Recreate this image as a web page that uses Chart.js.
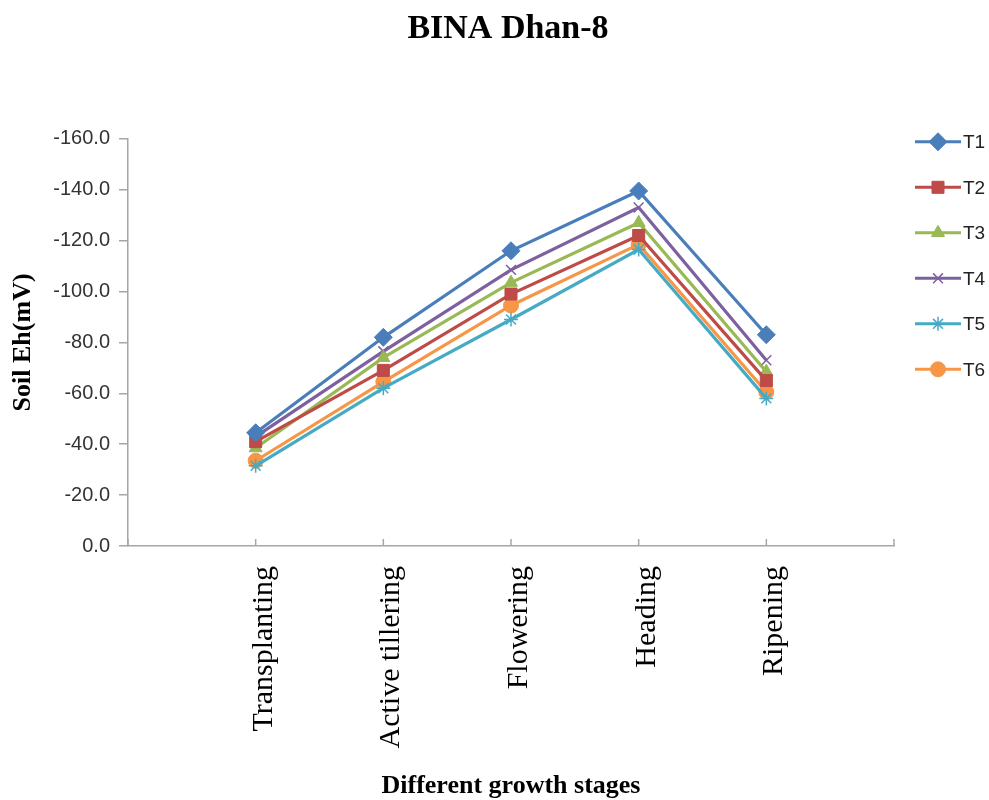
<!DOCTYPE html>
<html>
<head>
<meta charset="utf-8">
<script src="https://cdn.jsdelivr.net/npm/chart.js@4.4.0/dist/chart.umd.min.js"></script>
<style>
  html, body { margin: 0; padding: 0; background: #fff; }
  #wrap { width: 989px; height: 800px; }
</style>
</head>
<body>
<div id="wrap"><canvas id="chart" width="989" height="800"></canvas></div>
<script>
// Growth stages and soil Eh readings (mV)
const stages = ['Transplanting', 'Active tillering', 'Flowering', 'Heading', 'Ripening'];
const seriesNames = ['T1', 'T2', 'T3', 'T4', 'T5', 'T6'];
const t1 = [-44.5, -82.0, -116.0, -139.5, -83.0];
const t2 = [-41.0, -69.0, -99.0, -122.0, -65.0];
const t3 = [-38.5, -74.0, -103.5, -127.0, -68.5];
const t4 = [-43.0, -76.5, -108.5, -133.0, -73.0];
const t5 = [-31.5, -62.0, -89.0, -116.5, -58.0];
const t6 = [-33.5, -64.5, -94.5, -118.5, -60.5];
const yTicks = [0, -20, -40, -60, -80, -100, -120, -140, -160];

const colors = ['#4A7EBB', '#BE4B48', '#98B954', '#7D60A0', '#46AAC5', '#F79646'];
const markers = ['rectRot', 'rect', 'triangle', 'crossRot', 'star', 'circle'];
const markerSize = [9, 8.5, 7.5, 7, 7, 7.5];
const allSeries = [t1, t2, t3, t4, t5, t6];

const datasets = allSeries.map((vals, i) => ({
    label: seriesNames[i],
    data: vals.map((v, j) => ({ x: j + 1, y: v })),
    borderColor: colors[i],
    backgroundColor: colors[i],
    borderWidth: 3.2,
    pointStyle: markers[i],
    pointRadius: markerSize[i],
    pointBorderWidth: (markers[i] === 'crossRot' || markers[i] === 'star') ? 1.5 : 1,
    pointBorderColor: colors[i],
    pointBackgroundColor: colors[i],
    tension: 0
}));

// legend on the right: line sample with marker, like the spreadsheet one
const sideLegend = {
    id: 'sideLegend',
    afterDraw(chart) {
        const ctx = chart.ctx;
        const area = chart.chartArea;
        ctx.save();
        chart.data.datasets.forEach((ds, i) => {
            const y = area.top + 3 + i * 45.5;
            const x0 = area.right + 21;
            const x1 = area.right + 67;
            ctx.strokeStyle = ds.borderColor;
            ctx.fillStyle = ds.borderColor;
            ctx.lineWidth = 3;
            ctx.beginPath();
            ctx.moveTo(x0, y);
            ctx.lineTo(x1, y);
            ctx.stroke();
            ctx.lineWidth = ds.pointBorderWidth;
            Chart.helpers.drawPoint(ctx, {
                pointStyle: ds.pointStyle,
                radius: ds.pointRadius,
                borderWidth: ds.pointBorderWidth,
                rotation: 0
            }, (x0 + x1) / 2, y);
            ctx.fillStyle = '#222';
            ctx.font = '19px "Liberation Sans", Arial, sans-serif';
            ctx.textBaseline = 'middle';
            ctx.textAlign = 'left';
            ctx.fillText(ds.label, x1 + 2, y + 1);
        });
        ctx.restore();
    }
};

// small tick marks pointing up from the category axis
const innerTicks = {
    id: 'innerTicks',
    afterDatasetsDraw(chart) {
        const xs = chart.scales.x;
        const ctx = chart.ctx;
        ctx.save();
        ctx.strokeStyle = '#a6a6a6';
        ctx.lineWidth = 1.5;
        for (let i = 0; i <= stages.length + 1; i++) {
            const px = xs.getPixelForValue(i);
            ctx.beginPath();
            ctx.moveTo(px, xs.top);
            ctx.lineTo(px, xs.top - 7);
            ctx.stroke();
        }
        ctx.restore();
    }
};

// the original title sits a bit right of the canvas middle
const shiftTitle = {
    id: 'shiftTitle',
    afterLayout(chart) {
        if (chart.titleBlock) {
            chart.titleBlock.left += 122;
        }
    }
};

new Chart(document.getElementById('chart'), {
    type: 'line',
    data: { datasets },
    plugins: [sideLegend, innerTicks, shiftTitle],
    options: {
        responsive: false,
        animation: false,
        layout: { padding: { left: 0, right: 95, top: 0, bottom: 0 } },
        plugins: {
            legend: { display: false },
            tooltip: { enabled: false },
            title: {
                display: true,
                text: 'BINA Dhan-8',
                color: '#000',
                font: { family: '"Liberation Serif", "Times New Roman", serif', size: 34, weight: 'bold' },
                padding: { top: 9, bottom: 89 }
            }
        },
        scales: {
            x: {
                type: 'linear',
                min: 0,
                max: stages.length + 1,
                afterBuildTicks(scale) {
                    scale.ticks = stages.map((s, i) => ({ value: i + 1 }));
                },
                afterFit(scale) { scale.height = 254; },
                grid: { display: false },
                border: { display: true, color: '#a6a6a6', width: 1.5 },
                ticks: {
                    minRotation: 90,
                    maxRotation: 90,
                    padding: 12,
                    labelOffset: 8,
                    color: '#000',
                    font: { family: '"Liberation Serif", "Times New Roman", serif', size: 30 },
                    callback: (v) => stages[v - 1] || ''
                },
                title: {
                    display: true,
                    text: 'Different growth stages',
                    color: '#000',
                    font: { family: '"Liberation Serif", "Times New Roman", serif', size: 26, weight: 'bold' },
                    padding: { top: 0, bottom: -2 }
                }
            },
            y: {
                min: -160,
                max: 0,
                reverse: true,
                afterBuildTicks(scale) {
                    scale.ticks = yTicks.map(v => ({ value: v }));
                },
                afterFit(scale) { scale.width = 128; },
                grid: {
                    drawOnChartArea: false,
                    drawTicks: true,
                    tickLength: 9,
                    color: '#a6a6a6',
                    lineWidth: 1.5
                },
                border: { display: true, color: '#a6a6a6', width: 1.5 },
                ticks: {
                    padding: 9,
                    color: '#333',
                    font: { family: '"Liberation Sans", Arial, sans-serif', size: 20 },
                    callback: (v) => v.toFixed(1)
                },
                title: {
                    display: true,
                    text: 'Soil Eh(mV)',
                    color: '#000',
                    font: { family: '"Liberation Serif", "Times New Roman", serif', size: 26, weight: 'bold' },
                    padding: { top: 8, bottom: 0 }
                }
            }
        }
    }
});
</script>
</body>
</html>
